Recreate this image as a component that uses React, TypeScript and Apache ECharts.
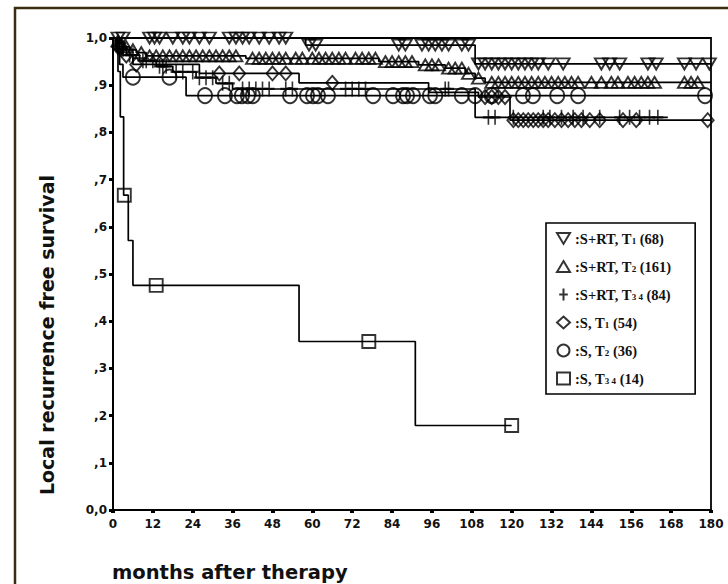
import React, { useEffect, useRef } from "react";
import * as echarts from "echarts";

// ---- axis ticks ----
const xTicks = [0, 12, 24, 36, 48, 60, 72, 84, 96, 108, 120, 132, 144, 156, 168, 180];
const yTickLabels = ["0,0", ",1", ",2", ",3", ",4", ",5", ",6", ",7", ",8", ",9", "1,0"];

// ---- group names (legend) ----
const groupNames = [
  "S+RT, T1 (68)",
  "S+RT, T2 (161)",
  "S+RT, T3 4 (84)",
  "S, T1 (54)",
  "S, T2 (36)",
  "S, T3 4 (14)",
];

// ---- Kaplan-Meier step curves: [month, survival] ----
const rtT1Curve = [[0, 1], [58, 0.985], [109, 0.945], [180, 0.945]];
const rtT2Curve = [
  [0, 1], [1, 0.994], [2, 0.988], [3, 0.981], [5, 0.975], [7, 0.969], [10, 0.962],
  [40, 0.957], [80, 0.95], [92, 0.943], [100, 0.936], [106, 0.925], [109, 0.915],
  [112, 0.906], [180, 0.906],
];
const rtT34Curve = [
  [0, 1], [1, 0.988], [2, 0.976], [4, 0.964], [8, 0.952], [13, 0.94], [18, 0.928],
  [25, 0.916], [31, 0.904], [36, 0.892], [109, 0.832], [167, 0.832],
];
const sT1Curve = [
  [0, 1], [1, 0.981], [3, 0.963], [6, 0.944], [26, 0.925], [56, 0.905], [95, 0.885],
  [110, 0.875], [119.5, 0.826], [180, 0.826],
];
const sT2Curve = [[0, 1], [1, 0.972], [2, 0.944], [3, 0.917], [22, 0.878], [180, 0.878]];
const sT34Curve = [
  [0, 1], [1.5, 0.929], [2.2, 0.833], [3.2, 0.667], [4.6, 0.571], [6, 0.476],
  [56, 0.357], [91, 0.179], [120, 0.179],
];

// ---- censoring times (months) ----
const rtT1Censor = [
  1.5, 3, 11, 12.5, 14, 18, 21, 23, 26, 29, 35, 37, 39, 41, 44, 47, 50, 52, 59, 61, 86, 88,
  93, 95, 97, 99, 101, 105, 107, 110, 112, 114, 116, 118, 120, 122, 124, 126, 128, 131,
  135.5, 147, 149.5, 152.5, 161, 163.5, 172, 175.5, 179.5,
];
const rtT2Censor = [
  1.5, 2.5, 4, 6, 8.5, 11, 13, 15, 17, 19, 21, 23, 25, 27, 29, 31, 33, 35, 37, 42, 44, 46,
  48, 50, 52, 55, 57, 60, 62, 64, 66, 68, 70, 73, 75, 77, 79, 82, 84, 86, 88, 90, 94, 96,
  98, 101, 103, 105, 107, 110, 114, 116, 118, 120, 122, 124, 126, 128, 130, 132, 134, 136,
  138, 140, 144, 147, 150, 152, 155, 157, 159, 161, 163, 172, 174, 176,
];
const rtT34Censor = [
  2.5, 3, 5, 6, 9, 10, 12, 14, 15, 16, 19, 21, 24, 26, 28, 30, 33, 35, 39, 41, 43, 45, 47,
  52, 54, 70, 72, 74, 76, 100, 101, 113, 115, 120.5, 129.5, 131.5, 135, 138.5, 141.5,
  146.5, 152.5, 155.5, 158.5, 161.5, 164,
];
const sT1Censor = [
  1.5, 2, 4, 7, 32, 38, 48, 52, 66, 112, 114, 116, 118, 120.5, 122, 123.5, 125, 126.5, 128,
  129.5, 131, 133, 135, 137, 139, 141, 143.5, 146.5, 153.5, 157.5, 179,
];
const sT2Censor = [
  6, 17, 27.7, 33.7, 37.3, 38.8, 40.6, 42.1, 53.3, 58.4, 60.2, 61.7, 64.7, 78.3, 84.3, 87.3,
  88.5, 90.3, 95.4, 97, 105, 109, 114, 123.4, 126.4, 133.7, 140, 178.2,
];
const sT34Censor = [3.4, 13, 77, 120];

const curves = [rtT1Curve, rtT2Curve, rtT34Curve, sT1Curve, sT2Curve, sT34Curve];
const censors = [rtT1Censor, rtT2Censor, rtT34Censor, sT1Censor, sT2Censor, sT34Censor];

const symbols: any[] = [
  "path://M0,0H12L6,10Z",
  "path://M6,0L12,10H0Z",
  "path://M5,0V14M0,7H10",
  "diamond",
  "circle",
  "rect",
];
const symbolSizes: any[] = [[13, 11], [13, 11], [11, 15], [12, 14], [14, 15], [13, 13]];

const legendRich = [
  "{t|:S+RT, T}{s|1}{t| (68)}",
  "{t|:S+RT, T}{s|2}{t| (161)}",
  "{t|:S+RT, T}{s|3 4}{t| (84)}",
  "{t|:S, T}{s|1}{t| (54)}",
  "{t|:S, T}{s|2}{t| (36)}",
  "{t|:S, T}{s|3 4}{t| (14)}",
];

function valueAt(curve: number[][], t: number): number {
  let v = curve[0][1];
  for (const p of curve) {
    if (p[0] <= t) v = p[1];
  }
  return v;
}

export default function App() {
  const ref = useRef<HTMLDivElement>(null);
  useEffect(() => {
    if (!ref.current) return;
    const chart = echarts.init(ref.current, undefined, { renderer: "svg" });
    const series: any[] = [];
    curves.forEach((c, i) => {
      series.push({
        type: "line",
        name: groupNames[i] + " curve",
        data: c,
        step: "end",
        symbol: "none",
        silent: true,
        z: 2,
        lineStyle: { color: "#000", width: 1.7 },
      });
    });
    censors.forEach((cs, i) => {
      series.push({
        type: "scatter",
        name: groupNames[i],
        data: cs.map((t) => [t, valueAt(curves[i], t)]),
        symbol: symbols[i],
        symbolSize: symbolSizes[i],
        z: 3,
        itemStyle: { color: "rgba(0,0,0,0)", borderColor: "#000", borderWidth: 1.9 },
      });
    });
    chart.setOption({
      animation: false,
      backgroundColor: "#fff",
      textStyle: { fontFamily: "DejaVu Sans" },
      grid: {
        left: 113, right: 17, top: 38, bottom: 74,
        show: true, borderColor: "#000", borderWidth: 1.8, backgroundColor: "transparent",
      },
      xAxis: {
        type: "value", min: 0, max: 180, interval: 12,
        axisLine: { show: true, onZero: false, lineStyle: { color: "#000", width: 2 } },
        axisTick: { show: true, length: 3, lineStyle: { color: "#000", width: 4 } },
        axisLabel: {
          color: "#111", fontFamily: "DejaVu Sans", fontWeight: "bold", fontSize: 12, margin: 8,
          formatter: (v: number) => (xTicks.indexOf(v) >= 0 ? String(v) : ""),
        },
        splitLine: { show: false },
      },
      yAxis: {
        type: "value", min: 0, max: 1, interval: 0.1,
        axisLine: { show: true, onZero: false, lineStyle: { color: "#000", width: 2 } },
        axisTick: { show: true, length: 4, lineStyle: { color: "#000", width: 3 } },
        axisLabel: {
          color: "#111", fontFamily: "DejaVu Sans", fontWeight: "bold", fontSize: 12, margin: 6,
          formatter: (v: number) => yTickLabels[Math.round(v * 10)],
        },
        splitLine: { show: false },
      },
      legend: {
        show: true,
        orient: "vertical",
        left: 546,
        top: 223,
        itemWidth: 13,
        itemHeight: 12,
        itemGap: 13,
        padding: [8, 24, 8, 10],
        borderColor: "#000",
        borderWidth: 1.6,
        backgroundColor: "#fff",
        selectedMode: false,
        data: groupNames,
        formatter: (name: string) => legendRich[groupNames.indexOf(name)],
        textStyle: {
          rich: {
            t: { fontFamily: "Liberation Serif", fontWeight: "bold", fontSize: 14.5, color: "#111", lineHeight: 14 },
            s: { fontFamily: "Liberation Serif", fontWeight: "bold", fontSize: 9, color: "#111", lineHeight: 9, verticalAlign: "bottom" },
          },
        },
      },
      graphic: [
        {
          type: "rect", silent: true,
          shape: { x: 15, y: 8, width: 740, height: 600 },
          style: { fill: "none", stroke: "#3a2c0e", lineWidth: 2.5 },
        },
        {
          type: "text", silent: true, x: 47, y: 335, rotation: Math.PI / 2,
          style: {
            text: "Local recurrence free survival", fill: "#111", fontFamily: "DejaVu Sans",
            fontWeight: "bold", fontSize: 19, align: "center", verticalAlign: "middle",
          },
        },
        {
          type: "text", silent: true, x: 112, y: 572,
          style: {
            text: "months after therapy", fill: "#111", fontFamily: "DejaVu Sans",
            fontWeight: "bold", fontSize: 19.5, align: "left", verticalAlign: "middle",
          },
        },
      ],
      series,
    });
    return () => chart.dispose();
  }, []);
  return (
    <div
      ref={ref}
      style={{ position: "fixed", left: 0, top: 0, width: 728, height: 584 }}
    />
  );
}
